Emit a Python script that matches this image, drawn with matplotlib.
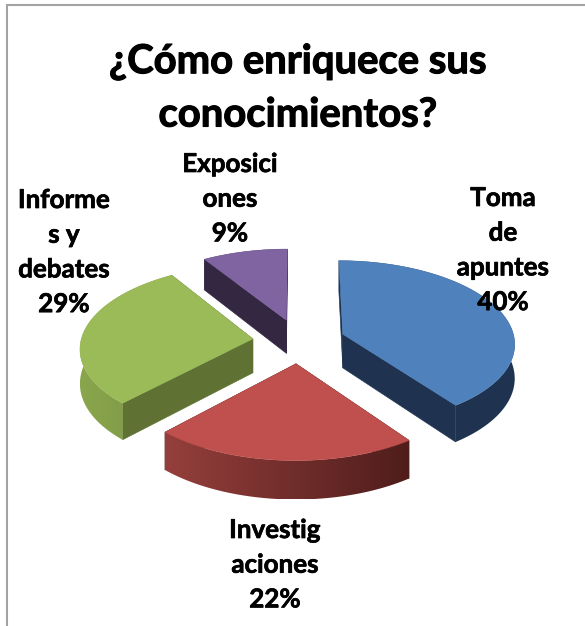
import numpy as np
import matplotlib
matplotlib.use("Agg")
import matplotlib.pyplot as plt
import matplotlib.patheffects as pe
from matplotlib.colors import to_rgb
from matplotlib.patches import Polygon

title = "¿Cómo enriquece sus\nconocimientos?"
categories = ["Toma\nde\napuntes", "Investig\naciones", "Informe\ns y\ndebates", "Exposici\nones"]
values = [40, 22, 29, 9]

top_colors = ["#4f81bd", "#c0504d", "#9bbb59", "#8064a2"]
wall_colors = ["#1f3350", "#4f1d1b", "#5f7233", "#332741"]
arc_left = ["#1f3350", "#953f3c", "#8aa64c", "#332741"]
arc_right = ["#1f3350", "#4f1d1b", "#7a9444", "#332741"]
label_xy = [(503, 198), (275, 530), (64, 200), (230, 164)]

CX, CY = 299.0, 341.0      # pie centre on the canvas
R = 172.0                  # radius scale
PERSP, TILT = 0.10, 0.478  # perspective strength and vertical squash
EXPLODE = 0.27
DEPTH = 34.0


def project(X, Y, drop=0.0):
    s = 1.0 / (1.0 + PERSP * Y)
    return CX + R * X * s, CY - R * TILT * Y * s + drop * s


fig = plt.figure(figsize=(5.85, 6.26), dpi=100)
ax = fig.add_axes([0, 0, 1, 1])
ax.axis("off")

# chart frame (runs off the right and bottom of the picture)
ax.plot([6.5, 6.5, 590], [630, 5, 5], color="#a3a3a3", lw=1.5, solid_joinstyle="miter")

fracs = np.array(values, float) / sum(values)
edges = np.concatenate([[0], np.cumsum(fracs)]) * 2 * np.pi

for i in range(len(values)):
    a0, a1 = edges[i], edges[i + 1]
    mid = (a0 + a1) / 2
    ox, oy = EXPLODE * np.sin(mid), EXPLODE * np.cos(mid)
    th = np.linspace(a0, a1, 120)
    X = ox + np.sin(th)
    Y = oy + np.cos(th)
    px, py = project(X, Y)
    qx, qy = project(X, Y, DEPTH)
    ax0, ay0 = project(ox, oy)
    bx0, by0 = project(ox, oy, DEPTH)

    # radial walls
    for k in (0, -1):
        ax.add_patch(Polygon([(ax0, ay0), (px[k], py[k]), (qx[k], qy[k]), (bx0, by0)],
                             closed=True, fc=wall_colors[i], ec=wall_colors[i], lw=0.4, zorder=2))
    # outer wall: a left-to-right shade clipped to the wall's outline
    cl, cr = np.array(to_rgb(arc_left[i])), np.array(to_rgb(arc_right[i]))
    shade = np.linspace(0, 1, 256)[None, :, None] * (cr - cl) + cl
    outline = Polygon(np.column_stack([np.r_[px, qx[::-1]], np.r_[py, qy[::-1]]]),
                      closed=True, fc="none", ec="none", transform=ax.transData)
    ax.add_patch(outline)
    im = ax.imshow(shade, extent=(px.min(), px.max(), qy.max(), py.min()),
                   aspect="auto", zorder=2, interpolation="bilinear")
    im.set_clip_path(outline)
    # top face
    ax.add_patch(Polygon(np.column_stack([np.r_[ax0, px], np.r_[ay0, py]]),
                         closed=True, fc=top_colors[i], ec=top_colors[i], lw=0.3, zorder=3))

ax.set_xlim(0, 585)
ax.set_ylim(626, 0)

FONT = "Lato"
for k, line in enumerate(title.split("\n")):
    t = ax.text(298, 62 + 53 * k, line, ha="center", va="center", family=FONT,
                fontweight="bold", fontsize=28.8, color="black", zorder=5)
    t.set_path_effects([pe.withStroke(linewidth=0.8, foreground="black")])

for name, v, (x, y) in zip(categories, values, label_xy):
    lines = name.split("\n") + [f"{v}%"]
    for k, line in enumerate(lines):
        t = ax.text(x, y + 34.7 * k, line, ha="center", va="center", family=FONT,
                    fontweight="bold", fontsize=18.7, color="black", zorder=5)
        t.set_path_effects([pe.withStroke(linewidth=0.5, foreground="black")])

fig.savefig("out.png", dpi=100)
